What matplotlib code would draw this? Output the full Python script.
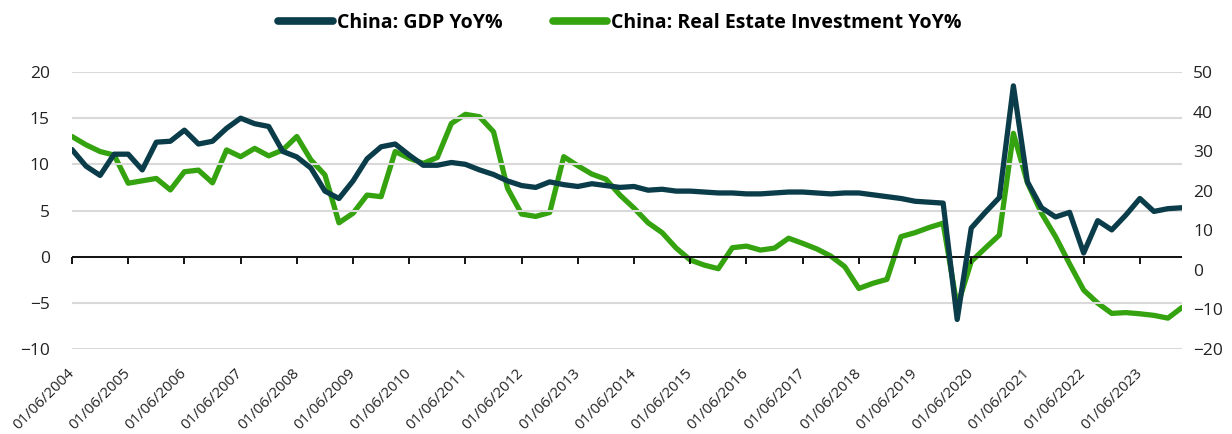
import matplotlib
matplotlib.use("Agg")
import matplotlib.pyplot as plt
import numpy as np

# ---- data (quarterly, Jun 2004 .. Mar 2024) ----
gdp_yoy = [11.6, 9.8, 8.8, 11.1, 11.1, 9.4, 12.4, 12.5, 13.7, 12.2, 12.5, 13.9,
           15.0, 14.4, 14.1, 11.4, 10.8, 9.6, 7.1, 6.3, 8.2, 10.6, 11.9, 12.2,
           11.0, 9.9, 9.9, 10.2, 10.0, 9.4, 8.9, 8.2, 7.7, 7.5, 8.1, 7.8,
           7.6, 7.9, 7.7, 7.5, 7.6, 7.2, 7.3, 7.1, 7.1, 7.0, 6.9, 6.9,
           6.8, 6.8, 6.9, 7.0, 7.0, 6.9, 6.8, 6.9, 6.9, 6.7, 6.5, 6.3,
           6.0, 5.9, 5.8, -6.8, 3.1, 4.8, 6.4, 18.5, 8.1, 5.3, 4.3, 4.8,
           0.4, 3.9, 2.9, 4.5, 6.3, 4.9, 5.2, 5.3]
reinv_yoy = [33.7, 31.6, 29.9, 29.0, 21.9, 22.5, 23.1, 20.2, 24.8, 25.2, 22.0, 30.3,
             28.6, 30.7, 28.8, 30.3, 33.7, 27.8, 24.0, 11.9, 14.3, 18.9, 18.5, 29.9,
             28.2, 26.9, 28.4, 37.0, 39.3, 38.7, 34.9, 20.6, 14.1, 13.5, 14.5, 28.6,
             26.3, 24.2, 22.9, 18.9, 15.6, 11.9, 9.4, 5.5, 2.5, 1.2, 0.3, 5.6,
             6.0, 5.0, 5.5, 8.0, 6.7, 5.3, 3.5, 0.8, -4.7, -3.4, -2.4, 8.4,
             9.4, 10.7, 11.8, -9.3, 2.1, 5.5, 8.8, 34.5, 22.0, 14.3, 8.4, 1.5,
             -5.1, -8.4, -11.0, -10.8, -11.1, -11.5, -12.2, -9.5]
tick_labels = ["01/06/2004", "01/06/2005", "01/06/2006", "01/06/2007", "01/06/2008",
               "01/06/2009", "01/06/2010", "01/06/2011", "01/06/2012", "01/06/2013",
               "01/06/2014", "01/06/2015", "01/06/2016", "01/06/2017", "01/06/2018",
               "01/06/2019", "01/06/2020", "01/06/2021", "01/06/2022", "01/06/2023"]
series_names = ["China: GDP YoY%", "China: Real Estate Investment YoY%"]

DARK = "#0b3c49"
GREEN = "#34a30f"
FONT = "Open Sans"

plt.rcParams['font.family'] = [FONT, 'DejaVu Sans']

fig = plt.figure(figsize=(12.32, 4.34), dpi=100)
ax = fig.add_axes([72/1232, 85/434, 1110/1232, 277/434])
ax2 = ax.twinx()

x = np.arange(len(gdp_yoy))

# gridlines (left axis)
ax.set_ylim(-10, 20)
ax.set_yticks(np.arange(-10, 21, 5))
ax.grid(axis='y', color='#d9d9d9', linewidth=1.5)
ax.set_axisbelow(True)
ax.axhline(0, color='black', linewidth=1.3, zorder=2)

l1, = ax.plot(x, gdp_yoy, color=DARK, linewidth=3.8, solid_capstyle='round',
              solid_joinstyle='round', zorder=4, label=series_names[0])
ax2.set_ylim(-20, 50)
ax2.set_yticks(np.arange(-20, 51, 10))
l2, = ax2.plot(x, reinv_yoy, color=GREEN, linewidth=3.8, solid_capstyle='round',
               solid_joinstyle='round', zorder=3, label=series_names[1])
ax.set_zorder(ax2.get_zorder() + 1)
ax.patch.set_visible(False)

ax.set_xlim(0, len(gdp_yoy) - 1)
tick_pos = np.arange(0, len(gdp_yoy), 4)[:len(tick_labels)]
ax.set_xticks(tick_pos)
ax.set_xticklabels(tick_labels, rotation=45, ha='right', va='center',
                   rotation_mode='anchor', fontsize=10.8, color='#222222')
ax.tick_params(axis='x', length=0, pad=16)
ax.tick_params(axis='y', length=0, pad=16, labelsize=12.5, labelcolor='#222222')
ax2.tick_params(axis='y', length=0, pad=8, labelsize=12.5, labelcolor='#222222')

# small tick marks on the zero line
sec = ax.secondary_xaxis(1/3)
sec.set_xticks(tick_pos)
sec.set_xticklabels([])
sec.tick_params(axis='x', direction='out', length=5, width=1.3, color='black')
sec.spines['bottom'].set_visible(False)

for a in (ax, ax2):
    for s in a.spines.values():
        s.set_visible(False)

leg = fig.legend(handles=[l1, l2], loc='center', bbox_to_anchor=(620/1232, 1 - 23/434),
                 ncol=2, frameon=False, handlelength=2.8, handletextpad=0.2,
                 columnspacing=2.6, prop={'family': FONT, 'weight': 'bold', 'size': 14})
for h in leg.get_lines():
    h.set_linewidth(5.5)
    h.set_solid_capstyle('round')

fig.savefig("out.png", dpi=100)
